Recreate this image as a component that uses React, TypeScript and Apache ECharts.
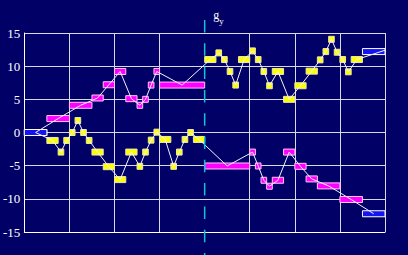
import { useEffect, useRef } from 'react';
import * as echarts from 'echarts';

// axes
const X_MIN = 0;
const X_MAX = 8;
const X_STEP = 1;
const Y_MIN = -15;
const Y_MAX = 15;
const Y_STEP = 5;
const G_Y = 4; // position of the dashed g_y marker
const X_GRID = [1, 2, 3, 5, 6, 7, 8]; // vertical grid lines (none at g_y)

// series A (upper): interval boundaries and the level held on each interval
const A_BOUNDS = [0, 0.5, 1, 1.5, 1.75, 2, 2.25, 2.5, 2.625, 2.75, 2.875, 3, 4,
  4.25, 4.375, 4.5, 4.625, 4.75, 5, 5.125, 5.25, 5.375, 5.5, 5.75, 6, 6.25, 6.5,
  6.625, 6.75, 6.875, 7, 7.125, 7.25, 7.5, 8];
const A_LEVELS = [0, 2.1, 4.1, 5.2, 7.2, 9.2, 5.1, 4.1, 5.0, 7.15, 9.2, 7.15,
  11, 12, 11, 9.2, 7.15, 11, 12.3, 11, 9.2, 7.05, 9.2, 5.0, 7.05, 9.25, 10.95,
  12.2, 14.05, 12.1, 11, 9.15, 11, 12.2];
const A_LINE_END = [8, 12.4];

// series B (lower)
const B_BOUNDS = [0, 0.5, 0.75, 0.875, 1, 1.125, 1.25, 1.375, 1.5, 1.75, 2, 2.25,
  2.5, 2.625, 2.75, 2.875, 3, 3.25, 3.375, 3.5, 3.625, 3.75, 4,
  5, 5.125, 5.25, 5.375, 5.5, 5.75, 6, 6.25, 6.5, 7, 7.5, 8];
const B_LEVELS = [0, -1.2, -2.95, -1.2, 0, 1.8, 0, -1.2, -2.95, -5.15, -7.1,
  -2.95, -5.1, -2.95, -1.15, 0.05, -1.05, -5.1, -2.95, -1.05, 0, -1.05,
  -5.05, -2.95, -5.05, -7.2, -8.1, -7.2, -2.95, -5.1, -7.0, -8.05, -10.1, -12.25];

const BG = '#000066';
const GRID_COLOR = '#d8d8ec';
const PALETTE = [
  { fill: '#1414f0', stroke: '#ffffff' }, // 0 blue (start / end)
  { fill: '#ff00ff', stroke: '#ffc4ff' }, // 1 magenta
  { fill: '#ffff00', stroke: '#e8e8b8' }, // 2 yellow
];
const FONT = '"Liberation Serif", "DejaVu Serif", serif';

function rectData(bounds: number[], levels: number[], before: number, after: number) {
  return levels.map((y, i) => {
    const kind = i === 0 || i === levels.length - 1 ? 0 : bounds[i] < G_Y ? before : after;
    return [bounds[i], bounds[i + 1], y, kind];
  });
}

function centers(bounds: number[], levels: number[]) {
  return levels.map((y, i) => [(bounds[i] + bounds[i + 1]) / 2, y]);
}

export default function App() {
  const ref = useRef<HTMLDivElement>(null);

  useEffect(() => {
    if (!ref.current) return;
    const chart = echarts.init(ref.current, undefined, { renderer: 'svg' });

    const renderItem = (_params: any, api: any) => {
      const y = api.value(2);
      const p0 = api.coord([api.value(0), y]);
      const p1 = api.coord([api.value(1), y]);
      const c = PALETTE[api.value(3)];
      return {
        type: 'rect',
        shape: { x: p0[0], y: p0[1] - 3, width: p1[0] - p0[0], height: 6 },
        style: { fill: c.fill, stroke: c.stroke, lineWidth: 1 },
      };
    };

    const lineA = centers(A_BOUNDS, A_LEVELS);
    lineA[lineA.length - 1] = A_LINE_END;
    const lineB = centers(B_BOUNDS, B_LEVELS);

    chart.setOption({
      animation: false,
      backgroundColor: BG,
      grid: { left: 20, right: 23, top: 33, bottom: 23 },
      xAxis: {
        type: 'value',
        min: X_MIN,
        max: X_MAX,
        interval: X_STEP,
        axisLine: { show: true, onZero: false, lineStyle: { color: '#ffffff', width: 1 } },
        axisTick: { show: false },
        axisLabel: { show: false },
        splitLine: { show: false },
      },
      yAxis: {
        type: 'value',
        min: Y_MIN,
        max: Y_MAX,
        interval: Y_STEP,
        axisLine: { show: true, onZero: false, lineStyle: { color: '#ffffff', width: 1 } },
        axisTick: { show: false },
        axisLabel: { color: '#ffffff', fontFamily: FONT, fontSize: 13, margin: 4 },
        splitLine: { show: true, lineStyle: { color: GRID_COLOR, width: 1 } },
      },
      series: [
        {
          type: 'line',
          data: [],
          z: 1,
          markLine: {
            z: 1,
            silent: true,
            symbol: ['none', 'none'],
            label: { show: false },
            lineStyle: { color: GRID_COLOR, width: 1, type: 'solid' },
            data: X_GRID.map((x) => ({ xAxis: x })),
          },
        },
        {
          type: 'custom',
          z: 2,
          renderItem,
          encode: { x: [0, 1], y: 2 },
          data: rectData(A_BOUNDS, A_LEVELS, 1, 2),
        },
        {
          type: 'custom',
          z: 2,
          renderItem,
          encode: { x: [0, 1], y: 2 },
          data: rectData(B_BOUNDS, B_LEVELS, 2, 1),
        },
        {
          type: 'line',
          z: 3,
          data: lineA,
          symbol: 'none',
          lineStyle: { color: '#f4f4ff', width: 1 },
        },
        {
          type: 'line',
          z: 3,
          data: lineB,
          symbol: 'none',
          lineStyle: { color: '#f4f4ff', width: 1 },
        },
      ],
    });

    const px = chart.convertToPixel({ xAxisIndex: 0 }, G_Y) as number;
    chart.setOption({
      graphic: [
        {
          type: 'line',
          z: 10,
          shape: { x1: px, y1: 20, x2: px, y2: 255 },
          style: { stroke: '#10c4d4', lineWidth: 1.5, lineDash: [12.5, 10.8] },
        },
        {
          type: 'text',
          z: 10,
          x: px + 8.5,
          y: 8.6,
          style: { text: 'g', fill: '#ffffff', font: `12px ${FONT}`, verticalAlign: 'top' },
        },
        {
          type: 'text',
          z: 10,
          x: px + 14.5,
          y: 16.4,
          style: { text: 'y', fill: '#ffffff', font: `9px ${FONT}`, verticalAlign: 'top' },
        },
      ],
    });

    return () => chart.dispose();
  }, []);

  return (
    <div
      ref={ref}
      style={{ position: 'fixed', left: 0, top: 0, width: 408, height: 255, background: BG }}
    />
  );
}
